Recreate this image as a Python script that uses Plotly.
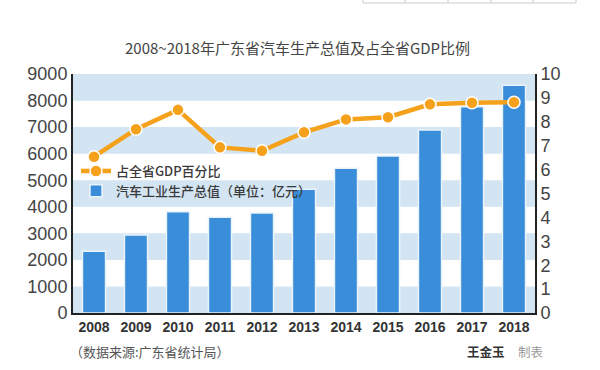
import plotly.graph_objects as go

years = ["2008", "2009", "2010", "2011", "2012", "2013", "2014", "2015", "2016", "2017", "2018"]
output_value = [2330, 2940, 3815, 3605, 3770, 4660, 5450, 5910, 6890, 7770, 8580]
gdp_share = [6.54, 7.69, 8.50, 6.93, 6.79, 7.56, 8.10, 8.19, 8.73, 8.80, 8.82]
left_ticks = [0, 1000, 2000, 3000, 4000, 5000, 6000, 7000, 8000, 9000]
right_ticks = [0, 1, 2, 3, 4, 5, 6, 7, 8, 9, 10]

title_text = "2008~2018年广东省汽车生产总值及占全省GDP比例"
line_name = "占全省GDP百分比"
bar_name = "汽车工业生产总值（单位：亿元）"
source_text = "（数据来源:广东省统计局）"
author_text = "王金玉"
made_text = "制表"

ML, MR, MT, MB = 73, 65, 74, 57
W, H = 600, 370
PW, PH = W - ML - MR, H - MT - MB

def px_x(p):
    return (p - ML) / PW

def px_y(p):
    return (H - MB - p) / PH

BLUE = "#3a8dd8"
STRIPE = "#d3e5f3"
ORANGE = "#f5a11c"
CJK = "Noto Sans CJK SC"

fig = go.Figure()

fig.add_trace(go.Scatter(
    x=years, y=gdp_share, name=line_name, yaxis="y2", mode="lines+markers",
    line=dict(color=ORANGE, width=4.5),
    marker=dict(size=12, color=ORANGE, line=dict(color="white", width=1.5)),
))
fig.add_trace(go.Bar(
    x=years, y=output_value, name=bar_name, width=0.55,
    marker=dict(color=BLUE, line=dict(color="#eaf3fb", width=1.5)),
))

shapes = []
for lo in range(0, 9000, 2000):
    shapes.append(dict(type="rect", xref="paper", yref="y", x0=0, x1=1, y0=lo, y1=lo + 1000,
                       fillcolor=STRIPE, line=dict(width=0), layer="below"))
shapes.append(dict(type="rect", xref="paper", yref="y", x0=0, x1=1, y0=8000, y1=9000,
                   fillcolor=STRIPE, line=dict(width=0), layer="below"))

# decorative table fragment at top right
bx = [363, 405, 448, 491, 533, 576]
shapes.append(dict(type="rect", xref="paper", yref="paper", x0=px_x(bx[0]), x1=px_x(bx[-1]),
                   y0=px_y(3), y1=px_y(-5), line=dict(color="#cccccc", width=1)))
for b in bx[1:-1]:
    shapes.append(dict(type="line", xref="paper", yref="paper", x0=px_x(b), x1=px_x(b),
                       y0=px_y(3), y1=px_y(-5), line=dict(color="#cccccc", width=1)))

annotations = [
    dict(text=title_text, x=px_x(297), y=px_y(47), xref="paper", yref="paper", showarrow=False,
         font=dict(family=CJK, size=15, color="#444444"), xanchor="center", yanchor="middle"),
    dict(text=source_text, x=px_x(68), y=px_y(351), xref="paper", yref="paper", showarrow=False,
         font=dict(family=CJK, size=13, color="#555555"), xanchor="left", yanchor="middle"),
    dict(text=author_text, x=px_x(507), y=px_y(351), xref="paper", yref="paper", showarrow=False,
         font=dict(family=CJK, size=12.5, color="#333333", weight="bold"), xanchor="right", yanchor="middle"),
    dict(text=made_text, x=px_x(516), y=px_y(351), xref="paper", yref="paper", showarrow=False,
         font=dict(family=CJK, size=12.5, color="#999999"), xanchor="left", yanchor="middle"),
]

fig.update_layout(
    width=W, height=H,
    margin=dict(l=ML, r=MR, t=MT, b=MB, pad=0),
    paper_bgcolor="white", plot_bgcolor="white",
    showlegend=True,
    legend=dict(x=px_x(76), y=px_y(156), xanchor="left", yanchor="top",
                bgcolor="rgba(0,0,0,0)",
                font=dict(family=CJK, size=13, color="#3a3a3a", weight=500),
                itemwidth=30, tracegroupgap=0),
    bargap=0.45,
    xaxis=dict(type="category", range=[-0.5, 10.5], showgrid=False, showline=True,
               linecolor="#222222", linewidth=2, ticks="",
               tickfont=dict(family="Liberation Sans", size=14, color="#333333", weight="bold")),
    yaxis=dict(range=[0, 9000], tickvals=left_ticks, showgrid=False, showline=True,
               linecolor="#222222", linewidth=2, ticks="", zeroline=False,
               tickfont=dict(family="Liberation Sans", size=18, color="#444444")),
    yaxis2=dict(range=[0, 10], tickvals=right_ticks, overlaying="y", side="right",
                showgrid=False, showline=True, linecolor="#222222", linewidth=2, ticks="",
                zeroline=False,
                tickfont=dict(family="Liberation Sans", size=18, color="#444444")),
    shapes=shapes,
    annotations=annotations,
)

fig.write_html("out.html", config={"displayModeBar": False},
               post_script="document.body.style.margin='0';document.body.style.padding='0';")
